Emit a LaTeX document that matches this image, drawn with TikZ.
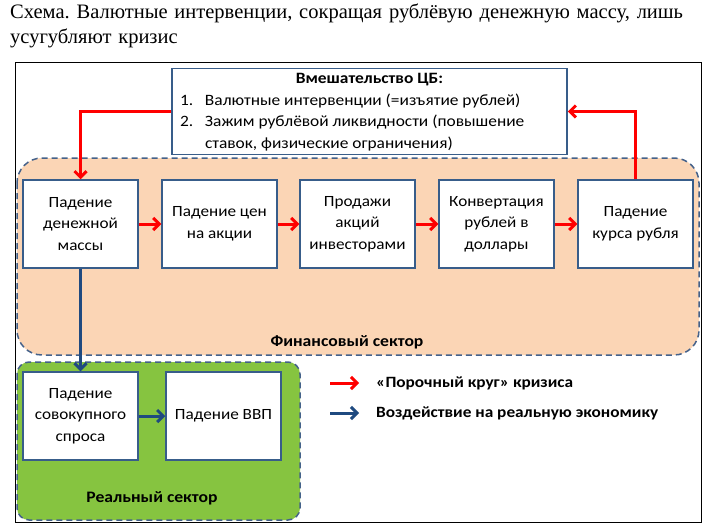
\documentclass[tikz,border=0pt]{standalone}
\usepackage{fontspec}
\setmainfont{Carlito}[FakeStretch=1.1]
\newfontfamily\titlefont{Liberation Serif}
\usetikzlibrary{arrows.meta}
\definecolor{boxblue}{HTML}{385D8A}
\definecolor{dashblue}{HTML}{44618A}
\definecolor{peach}{HTML}{FBD5B5}
\definecolor{realgreen}{HTML}{86C440}
\definecolor{arrred}{HTML}{FF0000}
\definecolor{arrblue}{HTML}{1F4A80}
\tikzset{
  stepbox/.style={draw=boxblue, line width=1.5pt, fill=white, minimum width=115pt,
    minimum height=88pt, align=center, inner sep=0pt,
    font=\fontsize{15.6}{21.5}\selectfont},
  sector/.style={draw=dashblue, line width=1.5pt, dash pattern=on 6pt off 4pt},
  redarrow/.style={draw=arrred, line width=3pt,
    -{Straight Barb[length=6pt,width=12pt,line width=3pt]}},
  bluearrow/.style={draw=arrblue, line width=3pt,
    -{Straight Barb[length=6pt,width=12pt,line width=3pt]}},
  label/.style={font=\fontsize{16}{20}\selectfont\bfseries, inner sep=0pt},
  legtext/.style={font=\fontsize{15.7}{18}\selectfont\bfseries, inner sep=0pt, anchor=west},
}
\begin{document}
\begin{tikzpicture}[x=1pt,y=-1pt]
\useasboundingbox[fill=white] (0,0) rectangle (720,532);
% title
\node[anchor=north west, align=left, inner sep=0pt, text width=705pt,
  font=\titlefont\fontsize{20.5}{25}\selectfont\frenchspacing] (title) at (10,4)
  {Схема. Валютные интервенции, сокращая рублёвую денежную массу, лишь\\ усугубляют кризис};
% outer frame
\draw[black, line width=1pt] (15,63) rectangle (701,522);
% sectors
\draw[sector, fill=peach, rounded corners=25pt] (17,158) rectangle (699,355);
\draw[sector, fill=realgreen, rounded corners=12pt] (17,362) rectangle (300,520);
\node[label] (fin) at (347,342) {Финансовый сектор};
\node[label] (real) at (152,498) {Реальный сектор};
% CB box
\node[draw=boxblue, line width=1.5pt, fill=white, minimum width=395pt, minimum height=83pt,
  inner sep=0pt, font=\fontsize{15.8}{21.5}\selectfont] (cb) at (369.5,111.5)
  {\raisebox{-2pt}{\begin{tabular}{@{}p{25pt}@{}p{354pt}@{}}
   \multicolumn{2}{c}{\textbf{Вмешательство ЦБ:}}\\
   1. & Валютные интервенции (=изъятие рублей)\\
   2. & Зажим рублёвой ликвидности (повышение\\
      & ставок, физические ограничения)
   \end{tabular}}};
% financial boxes
\node[stepbox] (b1) at (80.5,224) {Падение\\денежной\\массы};
\node[stepbox] (b2) at (219.5,224) {Падение цен\\на акции};
\node[stepbox] (b3) at (357.5,224) {Продажи\\акций\\инвесторами};
\node[stepbox] (b4) at (496.5,224) {Конвертация\\рублей в\\доллары};
\node[stepbox] (b5) at (635.5,224) {Падение\\курса рубля};
% real boxes
\node[stepbox] (r1) at (80.5,416) {Падение\\совокупного\\спроса};
\node[stepbox] (r2) at (223.5,416) {Падение ВВП};
% arrows
\draw[redarrow] (cb.west) -| (b1.north);
\draw[redarrow] (b5.north) |- (cb.east);
\draw[redarrow] (b1) -- (b2);
\draw[redarrow] (b2) -- (b3);
\draw[redarrow] (b3) -- (b4);
\draw[redarrow] (b4) -- (b5);
\draw[bluearrow] (b1.south) -- (r1.north);
\draw[bluearrow] (r1) -- (r2);
% legend
\coordinate (la1) at (330,383);
\coordinate (lb1) at (359,383);
\coordinate (la2) at (330,413);
\coordinate (lb2) at (359,413);
\draw[redarrow] (la1) -- (lb1);
\draw[bluearrow] (la2) -- (lb2);
\node[legtext] (leg1) at (376,383) {«Порочный круг» кризиса};
\node[legtext] (leg2) at (376,413) {Воздействие на реальную экономику};
\end{tikzpicture}
\end{document}
